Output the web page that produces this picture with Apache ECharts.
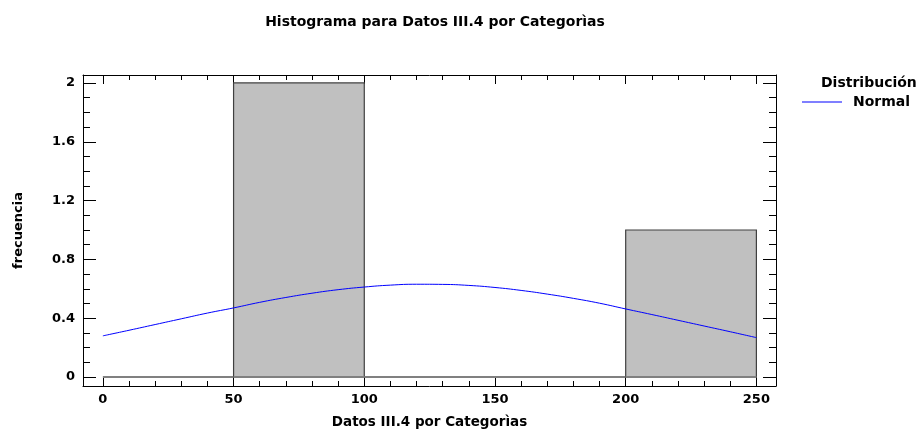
<!DOCTYPE html>
<html><head><meta charset="utf-8">
<script src="https://cdn.jsdelivr.net/npm/echarts@6/dist/echarts.min.js"></script>
<style>html,body{margin:0;padding:0;background:#fff}#c{width:922px;height:432px}</style>
</head><body><div id="c"></div>
<script>
// ---- data ----
const binStarts = [0, 50, 100, 150, 200];
const binEnds   = [50, 100, 150, 200, 250];
const binCounts = [0, 2, 0, 0, 1];
const curveX = [0,10,20,30,40,50,60,70,80,90,100,110,120,130,140,150,160,170,180,190,200,210,220,230,240,250];
const curveY = [0.280,0.318,0.357,0.396,0.435,0.470,0.508,0.541,0.570,0.594,0.612,0.625,0.631,0.630,0.623,0.609,0.589,0.564,0.535,0.502,0.463,0.425,0.386,0.347,0.308,0.268];
const xMajorTicks = [0,50,100,150,200,250];
const xMinorTicks = [10,20,30,40,60,70,80,90,110,120,130,140,160,170,180,190,210,220,230,240];
const yMajorTicks = [0,0.4,0.8,1.2,1.6,2];
const yMinorTicks = [0.1,0.2,0.3,0.5,0.6,0.7,0.9,1.0,1.1,1.3,1.4,1.5,1.7,1.8,1.9];

const FONT = "'DejaVu Sans', sans-serif";
const X_MIN = -7.6, X_MAX = 257.5, Y_MIN = -0.061, Y_MAX = 2.054;

function xAxis(pos, ticks, len, labels, line, extra) {
  return Object.assign({
    type: 'value', position: pos, min: X_MIN, max: X_MAX,
    axisLine: { show: line, onZero: false, lineStyle: { color: '#000', width: 1 } },
    axisTick: { show: true, inside: true, length: len, customValues: ticks, lineStyle: { color: '#000' } },
    axisLabel: labels ? { show: true, customValues: ticks, color: '#000', fontFamily: FONT, fontWeight: 'bold', fontSize: 13, margin: 7 } : { show: false },
    splitLine: { show: false }
  }, extra || {});
}
function yAxis(pos, ticks, len, labels, line, extra) {
  return Object.assign({
    type: 'value', position: pos, min: Y_MIN, max: Y_MAX,
    axisLine: { show: line, onZero: false, lineStyle: { color: '#000', width: 1 } },
    axisTick: { show: true, inside: true, length: len, customValues: ticks, lineStyle: { color: '#000' } },
    axisLabel: labels ? { show: true, customValues: ticks, color: '#000', fontFamily: FONT, fontWeight: 'bold', fontSize: 13, margin: 8 } : { show: false },
    splitLine: { show: false }
  }, extra || {});
}

const chart = echarts.init(document.getElementById('c'), null, { renderer: 'canvas' });
chart.setOption({
  animation: false,
  backgroundColor: '#fff',
  title: [
    { text: 'Histograma para Datos III.4 por Categorìas', left: 430, top: 10, textAlign: 'center',
      textStyle: { fontFamily: FONT, fontWeight: 'bold', fontSize: 14, color: '#000' } },
    { text: 'Distribución', left: 816, top: 71,
      textStyle: { fontFamily: FONT, fontWeight: 'bold', fontSize: 14, color: '#000' } }
  ],
  legend: {
    data: [{ name: 'Normal', icon: 'rect' }], left: 797, top: 90, itemWidth: 40, itemHeight: 1.2, itemGap: 10,
    textStyle: { fontFamily: FONT, fontWeight: 'bold', fontSize: 14, color: '#000', padding: [0, 0, 0, 6] }
  },
  grid: { left: 83, right: 146, top: 75, bottom: 46, containLabel: false, outerBoundsMode: 'none' },
  xAxis: [
    xAxis('bottom', xMajorTicks, 9, true, true, {
      name: 'Datos III.4 por Categorìas', nameLocation: 'middle', nameGap: 29,
      nameTextStyle: { fontFamily: FONT, fontWeight: 'bold', fontSize: 13.5, color: '#000' } }),
    xAxis('bottom', xMinorTicks, 5, false, false),
    xAxis('top', xMajorTicks, 9, false, true),
    xAxis('top', xMinorTicks, 5, false, false)
  ],
  yAxis: [
    yAxis('left', yMajorTicks, 13, true, true, {
      name: 'frecuencia', nameLocation: 'middle', nameGap: 58,
      nameTextStyle: { fontFamily: FONT, fontWeight: 'bold', fontSize: 13, color: '#000' } }),
    yAxis('left', yMinorTicks, 7, false, false),
    yAxis('right', yMajorTicks, 13, false, true),
    yAxis('right', yMinorTicks, 7, false, false)
  ],
  series: [
    {
      type: 'custom', name: 'bins', xAxisIndex: 0, yAxisIndex: 0, z: 2,
      data: binCounts.map((c, i) => [binStarts[i], binEnds[i], c]),
      renderItem: function (params, api) {
        const x0 = api.value(0), x1 = api.value(1), h = api.value(2);
        const p0 = api.coord([x0, 0]), p1 = api.coord([x1, h]);
        const children = [];
        if (h > 0) {
          children.push({ type: 'rect', shape: { x: p0[0], y: p1[1], width: p1[0] - p0[0], height: p0[1] - p1[1] },
            style: { fill: '#c0c0c0', stroke: '#404040', lineWidth: 1.2 } });
        }
        children.push({ type: 'line', shape: { x1: p0[0], y1: p0[1], x2: p1[0], y2: p0[1] },
          style: { stroke: '#808080', lineWidth: 2 } });
        return { type: 'group', children: children };
      }
    },
    {
      type: 'line', name: 'Normal', xAxisIndex: 0, yAxisIndex: 0, z: 3,
      data: curveX.map((x, i) => [x, curveY[i]]),
      smooth: true, symbol: 'none', showSymbol: false,
      lineStyle: { color: '#0000ff', width: 1 }, itemStyle: { color: '#0000ff' }
    }
  ]
});
</script>
</body></html>
